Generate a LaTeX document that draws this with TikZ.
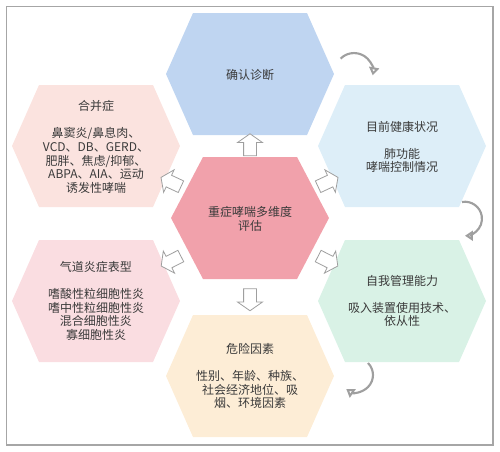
\documentclass[tikz,border=0pt]{standalone}
\usepackage{fontspec}
\setmainfont{Noto Sans CJK SC}
\usepackage{xcolor}
\usetikzlibrary{arrows.meta, positioning, calc, shapes.arrows}

\definecolor{diagblue}{HTML}{BFD5F1}
\definecolor{corepink}{HTML}{F1A1AB}
\definecolor{comorbpink}{HTML}{FBE3DF}
\definecolor{healthblue}{HTML}{DDEEF8}
\definecolor{airwaypink}{HTML}{FADDE1}
\definecolor{selfgreen}{HTML}{D9F2E6}
\definecolor{riskcream}{HTML}{FDEDD6}
\definecolor{textgray}{HTML}{3A3A3A}

\tikzset{pics/hexa/.style args={#1/#2/#3}{code={
  \fill[#3] (-#1,0) -- (-#2,-61) -- (#2,-61) -- (#1,0) -- (#2,61) -- (-#2,61) -- cycle;}}}

\begin{document}
\begin{tikzpicture}[x=0.75pt, y=-0.75pt, >={Triangle[open, length=6pt, width=7.5pt]},
  txt/.style={font=\fontsize{9}{10.2}\selectfont, text=textgray, align=center},
  blockarrow/.style={single arrow, draw=gray!75, fill=white, line width=0.6pt, inner sep=4.5pt,
    minimum height=16.5pt, single arrow head extend=4.5pt, single arrow tip angle=110},
  turn/.style={->, draw=gray!75, line width=1.6pt}]
  \useasboundingbox (0,0) rectangle (500,451);
  \draw[gray!70, line width=1.2pt] (6.5,6.5) rectangle (493,445);

  % hexagons
  \pic at (250,74) {hexa=84/57/diagblue};
  \pic at (96,146) {hexa=84/57/comorbpink};
  \pic at (402,146) {hexa=84/57/healthblue};
  \pic at (250,218) {hexa=79/47/corepink};
  \pic at (96,301) {hexa=84/57/airwaypink};
  \pic at (402,301) {hexa=84/57/selfgreen};
  \pic at (250,376) {hexa=84/57/riskcream};

  \node[txt] (diag) at (250,75) {确认诊断};
  \node[txt] (core) at (250,219) {重症哮喘多维度\\评估};
  \node[txt] (comorb) at (96,147) {合并症\\[10pt]鼻窦炎/鼻息肉、\\VCD、DB、GERD、\\肥胖、焦虑/抑郁、\\ABPA、AIA、运动\\诱发性哮喘};
  \node[txt] (health) at (402,147) {目前健康状况\\[10pt]肺功能\\哮喘控制情况};
  \node[txt] (airway) at (96,301) {气道炎症表型\\[10pt]嗜酸性粒细胞性炎\\嗜中性粒细胞性炎\\混合细胞性炎\\寡细胞性炎};
  \node[txt] (selfman) at (402,301) {自我管理能力\\[10pt]吸入装置使用技术、\\依从性};
  \node[txt] (risk) at (250,376) {危险因素\\[10pt]性别、年龄、种族、\\社会经济地位、吸\\烟、环境因素};

  \foreach \t/\a in {diag/90, comorb/155, health/25, airway/207, selfman/333, risk/270}
    \node[blockarrow, rotate=\a] (to\t) at ($(core)!0.5!(\t)$) {};

  % turning arrows
  \coordinate (turnA) at (340.6,58.6);
  \coordinate (turnB) at (462,202);
  \coordinate (turnC) at (368,363);
  \draw[turn] (turnA) arc[start angle=-135, end angle=10, radius=19];
  \draw[turn] (turnB) arc[start angle=-100, end angle=90, radius=17];
  \draw[turn] (turnC) arc[start angle=-45, end angle=125, radius=17];
\end{tikzpicture}
\end{document}
